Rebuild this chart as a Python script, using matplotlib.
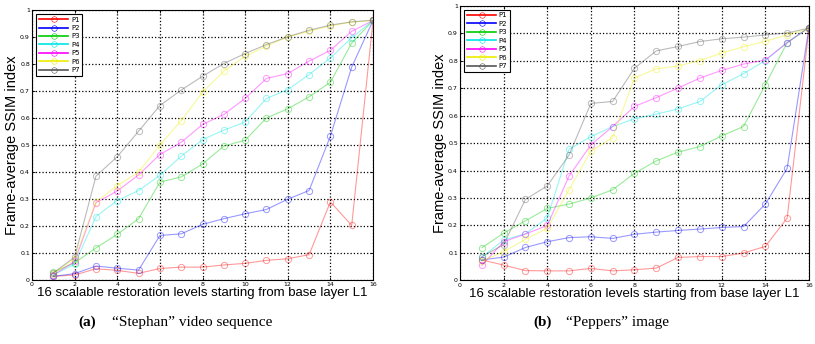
#!/usr/bin/env python3
"""Frame-average SSIM vs scalable restoration level, two panels (Stephan / Peppers)."""
import numpy as np
import matplotlib
matplotlib.use("Agg")
import matplotlib.pyplot as plt
from matplotlib.lines import Line2D

levels = np.arange(1, 17)
names = ["P1", "P2", "P3", "P4", "P5", "P6", "P7"]
colors = ["#ff0000", "#0000ff", "#00cc00", "#00e5e5", "#ff00ff", "#eeee00", "#555555"]

# (a) "Stephan" video sequence
stephan_p1 = [0.015, 0.02, 0.043, 0.037, 0.026, 0.044, 0.049, 0.049, 0.057, 0.063, 0.074, 0.08, 0.095, 0.29, 0.203, 0.96]
stephan_p2 = [0.015, 0.025, 0.053, 0.045, 0.038, 0.166, 0.172, 0.207, 0.228, 0.246, 0.262, 0.30, 0.332, 0.533, 0.788, 0.96]
stephan_p3 = [0.03, 0.065, 0.12, 0.17, 0.228, 0.363, 0.382, 0.43, 0.496, 0.518, 0.60, 0.634, 0.678, 0.732, 0.877, 0.96]
stephan_p4 = [0.02, 0.06, 0.236, 0.295, 0.332, 0.388, 0.459, 0.52, 0.555, 0.585, 0.672, 0.705, 0.76, 0.822, 0.896, 0.96]
stephan_p5 = [0.02, 0.07, 0.287, 0.33, 0.39, 0.465, 0.51, 0.576, 0.613, 0.672, 0.746, 0.764, 0.81, 0.85, 0.92, 0.96]
stephan_p6 = [0.025, 0.08, 0.29, 0.35, 0.40, 0.50, 0.59, 0.695, 0.773, 0.828, 0.865, 0.90, 0.92, 0.94, 0.954, 0.96]
stephan_p7 = [0.028, 0.086, 0.385, 0.457, 0.551, 0.646, 0.703, 0.754, 0.801, 0.838, 0.871, 0.90, 0.924, 0.943, 0.955, 0.961]

# (b) "Peppers" image
peppers_p1 = [0.075, 0.056, 0.036, 0.035, 0.035, 0.044, 0.035, 0.039, 0.045, 0.084, 0.087, 0.087, 0.10, 0.124, 0.227, 0.915]
peppers_p2 = [0.075, 0.085, 0.12, 0.141, 0.156, 0.159, 0.153, 0.168, 0.176, 0.182, 0.187, 0.193, 0.196, 0.278, 0.408, 0.92]
peppers_p3 = [0.119, 0.172, 0.217, 0.262, 0.278, 0.30, 0.33, 0.39, 0.435, 0.467, 0.487, 0.526, 0.56, 0.712, 0.865, 0.92]
peppers_p4 = [0.085, 0.147, 0.17, 0.227, 0.477, 0.523, 0.56, 0.588, 0.605, 0.624, 0.651, 0.712, 0.752, 0.80, 0.865, 0.92]
peppers_p5 = [0.055, 0.141, 0.169, 0.20, 0.38, 0.493, 0.56, 0.633, 0.665, 0.70, 0.736, 0.764, 0.787, 0.802, 0.865, 0.92]
peppers_p6 = [0.07, 0.105, 0.15, 0.19, 0.33, 0.47, 0.52, 0.736, 0.77, 0.78, 0.80, 0.827, 0.85, 0.87, 0.893, 0.915]
peppers_p7 = [0.087, 0.13, 0.295, 0.344, 0.456, 0.644, 0.651, 0.772, 0.835, 0.851, 0.869, 0.879, 0.885, 0.893, 0.90, 0.918]

stephan = [stephan_p1, stephan_p2, stephan_p3, stephan_p4, stephan_p5, stephan_p6, stephan_p7]
peppers = [peppers_p1, peppers_p2, peppers_p3, peppers_p4, peppers_p5, peppers_p6, peppers_p7]

xticks = np.arange(0, 17, 2)
yticks = np.round(np.arange(0, 1.01, 0.1), 1)
ytick_labels = ["0"] + [f"{v:g}" for v in yticks[1:-1]] + ["1"]

fig = plt.figure(figsize=(8.15, 3.44), dpi=100)
ax_a = fig.add_axes([0.0393, 0.1849, 0.4184, 0.787])
ax_b = fig.add_axes([0.5644, 0.1846, 0.4282, 0.7994])

for ax, data in [(ax_a, stephan), (ax_b, peppers)]:
    for vals, c in zip(data, colors):
        ax.plot(levels, vals, color=c, alpha=0.4, lw=0.8, marker="o", ms=4.5,
                mfc="none", mec=c, mew=0.7)
    ax.set_xlim(0, 16); ax.set_ylim(0, 1)
    ax.set_xticks(xticks); ax.set_yticks(yticks)
    ax.set_xticklabels([str(t) for t in xticks]); ax.set_yticklabels(ytick_labels)
    ax.tick_params(labelsize=4.5, length=2.5, width=0.6, direction="in", pad=1.5,
                   top=True, right=True)
    ax.grid(True, color="black", ls=":", lw=0.9)
    for s in ax.spines.values():
        s.set_linewidth(0.8)
    ax.set_ylabel("Frame-average SSIM index", family="Liberation Sans", fontsize=10.5, labelpad=1)
    ax.set_xlabel("16 scalable restoration levels starting from base layer L1",
                  family="Liberation Sans", fontsize=9.5, labelpad=0)
    handles = [Line2D([], [], color=c, lw=1.2, marker="o", ms=4, mfc="none",
                      mec=c, alpha=1.0, markeredgewidth=0.4) for c in colors]
    leg = ax.legend(handles, names, loc="upper left", fontsize=5, handlelength=4.2,
                    labelspacing=0.35, borderaxespad=0.6, fancybox=False, framealpha=1,
                    edgecolor="black", handletextpad=0.4, borderpad=0.4)
    leg.get_frame().set_linewidth(0.8)

# sub-figure captions
cap = dict(family="Liberation Serif", fontsize=11, ha="left", va="center")
fig.text(0.096, 0.062, "(a)", fontweight="bold", **cap)
fig.text(0.137, 0.062, "“Stephan” video sequence", **cap)
fig.text(0.654, 0.062, "(b)", fontweight="bold", **cap)
fig.text(0.695, 0.062, "“Peppers” image", **cap)

fig.savefig("out.png", dpi=100)
